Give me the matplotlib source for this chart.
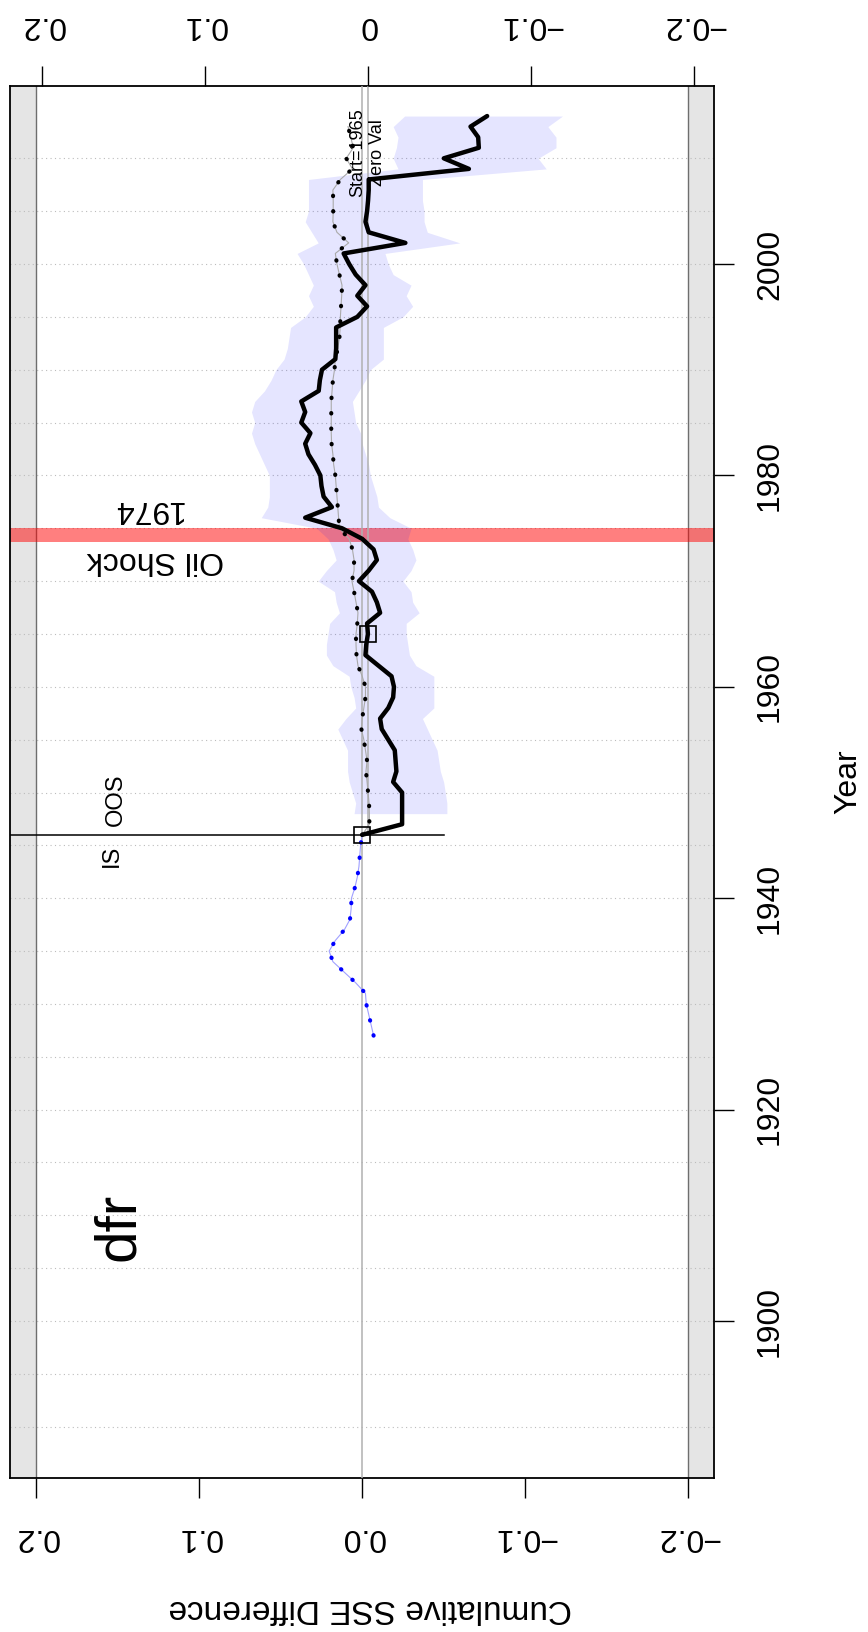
import matplotlib
matplotlib.use("Agg")
import matplotlib.pyplot as plt
import matplotlib.transforms as mtransforms
import numpy as np

plt.rcParams['font.family'] = ['Liberation Sans', 'DejaVu Sans']

# ---------------- data ----------------
black_years = list(range(1946, 2015))
black_vals = [0.0, -0.0245, -0.0245, -0.0245, -0.0245, -0.019, -0.021, -0.0205, -0.020, -0.016,
              -0.012, -0.011, -0.016, -0.019, -0.0195, -0.018, -0.010, -0.002, -0.0025, -0.0035,
              -0.003, -0.011, -0.009, -0.006, 0.002, -0.004, -0.009, -0.007, 0.0, 0.0124,
              0.035, 0.0186, 0.0237, 0.025, 0.0257, 0.029, 0.033, 0.035, 0.0318, 0.0374,
              0.035, 0.0374, 0.0267, 0.026, 0.0247, 0.0165, 0.016, 0.016, 0.016, 0.003,
              -0.003, 0.003, -0.002, 0.004, 0.008, 0.0114, -0.0265, -0.004, -0.002, -0.003,
              -0.0036, -0.004, -0.004, -0.0655, -0.0501, -0.0716, -0.0712, -0.0665, -0.0767]

dot_years = list(range(1946, 2014))
dot_vals = [0.0, -0.0044, -0.0044, -0.0042, -0.0036, -0.003, -0.0023, -0.003, -0.002, -0.001,
            0.0005, 0.0, -0.001, -0.002, -0.002, 0.0, 0.0026, 0.0035, 0.0038, 0.0038,
            0.003, 0.0026, 0.0038, 0.005, 0.0063, 0.005, 0.005, 0.006, 0.008, 0.014,
            0.0145, 0.015, 0.0155, 0.016, 0.0165, 0.0175, 0.018, 0.0188, 0.019, 0.019,
            0.019, 0.019, 0.0185, 0.018, 0.017, 0.0165, 0.015, 0.014, 0.0135, 0.0134,
            0.013, 0.0126, 0.0124, 0.014, 0.0155, 0.0165, 0.0083, 0.0155, 0.018, 0.0178,
            0.0178, 0.018, 0.0134, 0.006, 0.0098, 0.0055, 0.007, 0.0087]

blue_years = list(range(1927, 1947))
blue_vals = [-0.007, -0.0055, -0.004, -0.0025, -0.002, 0.004, 0.011, 0.018, 0.0203, 0.0165,
             0.011, 0.0075, 0.0068, 0.0066, 0.0045, 0.003, 0.002, 0.0015, 0.001, 0.0]

band_years = list(range(1948, 2015))
band_hi = [0.005, 0.004, 0.006, 0.008, 0.009, 0.009, 0.009, 0.012, 0.015, 0.010,
           0.004, 0.005, 0.007, 0.008, 0.018, 0.022, 0.022, 0.021, 0.020, 0.014,
           0.016, 0.017, 0.027, 0.022, 0.016, 0.018, 0.021, 0.028, 0.062, 0.058,
           0.057, 0.057, 0.057, 0.060, 0.063, 0.066, 0.068, 0.066, 0.068, 0.066,
           0.060, 0.056, 0.053, 0.048, 0.046, 0.045, 0.044, 0.035, 0.030, 0.033,
           0.030, 0.033, 0.036, 0.040, 0.027, 0.031, 0.035, 0.033, 0.033, 0.033,
           0.033, -0.022, -0.019, -0.021, -0.022, -0.019, -0.026]
band_lo = [-0.052, -0.052, -0.051, -0.050, -0.048, -0.047, -0.046, -0.043, -0.040, -0.037,
           -0.044, -0.044, -0.044, -0.044, -0.033, -0.029, -0.028, -0.027, -0.027, -0.035,
           -0.031, -0.030, -0.025, -0.030, -0.033, -0.031, -0.028, -0.030, -0.017, -0.010,
           -0.009, -0.007, -0.005, -0.004, -0.002, 0.000, 0.001, 0.004, 0.005, 0.006,
           0.002, -0.002, -0.005, -0.013, -0.013, -0.013, -0.013, -0.025, -0.031, -0.027,
           -0.030, -0.019, -0.016, -0.014, -0.060, -0.040, -0.038, -0.038, -0.037, -0.037,
           -0.037, -0.113, -0.108, -0.119, -0.119, -0.114, -0.123]

split_year = 1946
start_year = 1965
zero_val = -0.0035
oos_line_end = -0.05
shock_lo, shock_hi = 1973.68, 1975.04

val_ticks = [0.2, 0.1, 0.0, -0.1, -0.2]
bottom_labels = ["0.2", "0.1", "0.0", "\u22120.1", "\u22120.2"]
top_labels = ["0.2", "0.1", "0", "\u22120.1", "\u22120.2"]
year_ticks = [1900, 1920, 1940, 1960, 1980, 2000]
grid_years = list(range(1890, 2011, 5))

# ---------------- figure ----------------
W, H = 868, 1632
fig = plt.figure(figsize=(W / 100, H / 100), dpi=100)
Lpx, Rpx, Tpx, Bpx = 10.4, 714.0, 85.6, 1478.3
ax = fig.add_axes([Lpx / W, 1 - Bpx / H, (Rpx - Lpx) / W, (Bpx - Tpx) / H])
ax.set_xlim(0.216, -0.216)
ax.set_ylim(1885.12, 2016.88)

# gray strips beyond +-0.2
ax.axvspan(0.2, 0.216, color='#e5e5e5', lw=0, zorder=0)
ax.axvspan(-0.216, -0.2, color='#e5e5e5', lw=0, zorder=0)
ax.axvline(0.2, color='#6e6e6e', lw=1.0, zorder=0.6)
ax.axvline(-0.2, color='#6e6e6e', lw=1.0, zorder=0.6)

for gy in grid_years:
    ax.axhline(gy, color='#bcbcbc', lw=0.8, ls=(0, (1, 3)), zorder=0.5)

# oil shock band
ax.axhspan(shock_lo, shock_hi, color=(1, 0, 0, 0.5), lw=0, zorder=1)

# uncertainty band
ax.fill_betweenx(band_years, band_lo, band_hi, color=(0, 0, 1, 0.1), lw=0, zorder=2)

# reference lines
ax.axvline(0.0, color='#b0b0b0', lw=1.1, zorder=3)
ax.vlines(zero_val, split_year, 2016.88, color='#b0b0b0', lw=1.1, zorder=3)
ax.plot([0.216, oos_line_end], [split_year, split_year], color='black', lw=1.1, zorder=4)

# in-sample blue dotted series
ax.plot(blue_vals, blue_years, color='#a0a0ff', lw=0.8, zorder=4)
ax.plot(blue_vals, blue_years, color='blue', lw=3.0, ls=(0, (0.1, 3.6)),
        dash_capstyle='round', zorder=5)

# black dotted series
ax.plot(dot_vals, dot_years, color='#aaaaaa', lw=0.8, zorder=4)
ax.plot(dot_vals, dot_years, color='black', lw=3.0, ls=(0, (0.1, 3.6)),
        dash_capstyle='round', zorder=5)

# main black line
ax.plot(black_vals, black_years, color='black', lw=3.2, solid_joinstyle='round',
        solid_capstyle='round', zorder=6)

# squares
ax.plot([black_vals[0], zero_val], [split_year, start_year], 's', mfc='none', mec='black',
        ms=11, mew=1.2, zorder=7)

# spines & ticks
for s in ax.spines.values():
    s.set_linewidth(1.3)
    s.set_color('black')
ax.set_xticks(val_ticks)
ax.yaxis.tick_right()
ax.set_yticks(year_ticks)
ax.tick_params(axis='both', direction='out', length=14.2, width=1.0,
               labelbottom=False, labelright=False, labelleft=False, labeltop=False,
               left=False, top=False)

ax2 = ax.twiny()
ax2.set_xlim(0.216 - zero_val, -0.216 - zero_val)
ax2.set_xticks(val_ticks)
ax2.tick_params(axis='x', direction='out', length=14.2, width=1.0, labeltop=False)
for s in ax2.spines.values():
    s.set_visible(False)

# ---------------- text ----------------
fs = 23
tb = mtransforms.blended_transform_factory(ax.transData, fig.transFigure)
tt = mtransforms.blended_transform_factory(ax2.transData, fig.transFigure)
tr = mtransforms.blended_transform_factory(fig.transFigure, ax.transData)

for v, lab in zip(val_ticks, bottom_labels):
    ax.text(v, 1 - 1537 / H, lab, transform=tb, rotation=180, ha='center', va='center',
            fontsize=fs, clip_on=False)
for v, lab in zip(val_ticks, top_labels):
    ax2.text(v, 1 - 25 / H, lab, transform=tt, rotation=180, ha='center', va='center',
             fontsize=fs, clip_on=False)
for y in year_ticks:
    ax.text(770 / W, y, str(y), transform=tr, rotation=90, ha='center', va='center',
            fontsize=fs, clip_on=False)

fig.text(848 / W, 1 - 782 / H, "Year", rotation=90, ha='center', va='center', fontsize=fs)
fig.text(370 / W, 1 - 1609 / H, "Cumulative SSE Difference", rotation=180,
         ha='center', va='center', fontsize=24)

ax.text(0.1496, 1908.9, "dfr", rotation=90, ha='center', va='center', fontsize=42, zorder=8)
ax.text(0.1272, 1972.0, "Oil Shock", rotation=180, ha='center', va='center', fontsize=23, zorder=8)
ax.text(0.1318, 1976.8, "1974", rotation=180, ha='center', va='center', fontsize=23, zorder=8)
ax.text(0.1513, 1949.3, "OOS", rotation=90, ha='center', va='center', fontsize=17, zorder=8)
ax.text(0.1536, 1944.0, "IS", rotation=90, ha='center', va='center', fontsize=17, zorder=8)
ax.text(0.0026, 2010.5, "Start=1965", rotation=90, ha='center', va='center', fontsize=13, zorder=8)
ax.text(-0.0094, 2010.55, "Zero Val", rotation=90, ha='center', va='center', fontsize=13, zorder=8)

fig.savefig("out.png", dpi=100)
